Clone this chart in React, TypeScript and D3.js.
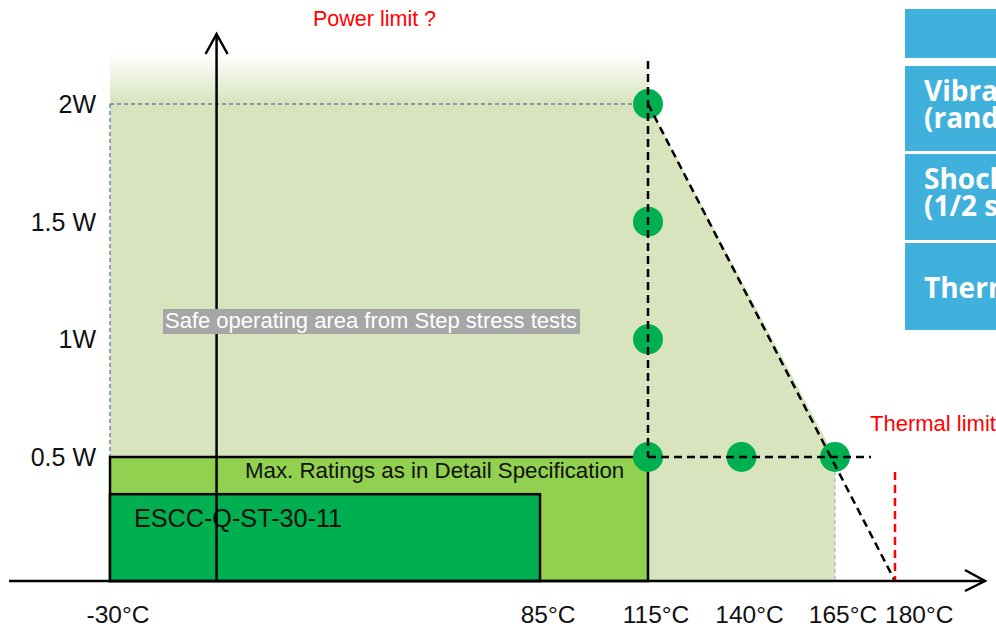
import React from "react";
import * as d3 from "d3";

// ---- data ----
const tempTicks = [-30, 85, 115, 140, 165, 180];
const tempLabels = ["-30°C", "85°C", "115°C", "140°C", "165°C", "180°C"];
const powerTicks = [0.5, 1, 1.5, 2];
const powerLabels = ["0.5 W", "1W", "1.5 W", "2W"];
const stepPoints: [number, number][] = [
  [115, 2], [115, 1.5], [115, 1], [115, 0.5], [140, 0.5], [165, 0.5],
];
const safeArea: [number, number][] = [[-30, 0], [-30, 2], [115, 2], [165, 0.5], [165, 0]];
const maxRating = { t0: -30, t1: 115, p: 0.5, label: "Max. Ratings as in Detail Specification" };
const esccRating = { t0: -30, t1: 85, p: 0.35, label: "ESCC-Q-ST-30-11" };
const thermalLimitT = 180;
const derating: [number, number][] = [[115, 2], [180, 0]];
const tableRows = [["", ""], ["Vibration", "(random)"], ["Shock", "(1/2 sine)"], ["Thermal", ""]];

const W = 996, H = 627;

export default function App() {
  const x = d3.scaleLinear().domain([-30, 85, 115, 165, 180]).range([110, 540, 648, 835, 895]);
  const y = d3.scaleLinear().domain([0, 0.5, 2]).range([581, 457, 104]);
  const line = d3.line<[number, number]>().x((d) => x(d[0])).y((d) => y(d[1]));
  const base = y(0);
  const yAxisX = x(-1.5);
  const green = "#D7E4BD";
  const font = "'Liberation Sans', Arial, sans-serif";
  const tfont = "'Open Sans', sans-serif";

  return (
    <svg width={W} height={H} style={{ position: "absolute", left: 0, top: 0, background: "#fff" }}>
      <defs>
        <linearGradient id="fade" x1="0" y1="0" x2="0" y2="1">
          <stop offset="0" stopColor={green} stopOpacity={0} />
          <stop offset="1" stopColor={green} stopOpacity={1} />
        </linearGradient>
      </defs>

      {/* safe operating area */}
      <rect x={x(-30)} y={y(2) - 50} width={x(115) - x(-30)} height={50} fill="url(#fade)" />
      <path d={line(safeArea) + "Z"} fill={green} />
      <path d={`M${x(-30)},${y(2)}H${x(115)}`} stroke="#2F5597" strokeWidth={1} strokeDasharray="4,3" />
      <path d={`M${x(-30)},${y(2)}V${y(0.5)}`} stroke="#2F5597" strokeWidth={1} strokeDasharray="4,3" />
      <path d={`M${x(165)},${y(0.5)}V${base}`} stroke="#8EA9C1" strokeWidth={1} strokeDasharray="4,3" />

      {/* rating rectangles */}
      <rect x={x(maxRating.t0)} y={y(maxRating.p)} width={x(maxRating.t1) - x(maxRating.t0)}
        height={base - y(maxRating.p)} fill="#92D050" stroke="#000" strokeWidth={2.5} />
      <rect x={x(esccRating.t0)} y={y(esccRating.p)} width={x(esccRating.t1) - x(esccRating.t0)}
        height={base - y(esccRating.p)} fill="#00B050" stroke="#000" strokeWidth={2.5} />
      <text x={245} y={478} fontFamily={font} fontSize={22.3} fill="#111">{maxRating.label}</text>
      <text x={134} y={527} fontFamily={font} fontSize={25.2} fill="#111">{esccRating.label}</text>

      {/* y axis */}
      <line x1={yAxisX} x2={yAxisX} y1={34} y2={base} stroke="#000" strokeWidth={2.5} />
      <polyline points={`${yAxisX - 11},54 ${yAxisX},34 ${yAxisX + 11},54`} fill="none" stroke="#000" strokeWidth={2.5} />

      {/* safe operating label */}
      <rect x={163} y={309} width={417} height={25} fill="#A6A6A6" />
      <text x={165} y={328} fontFamily={font} fontSize={22} fill="#fff">Safe operating area from Step stress tests</text>

      {/* step stress points */}
      {stepPoints.map((d, i) => (
        <circle key={i} cx={x(d[0])} cy={y(d[1])} r={15} fill="#00B050" />
      ))}

      {/* dashed black guides */}
      <path d={`M${x(115)},61V${y(0.5)}`} stroke="#000" strokeWidth={2.5} strokeDasharray="8,5" />
      <path d={`M${x(115)},${y(0.5)}H${x(174)}`} stroke="#000" strokeWidth={2.5} strokeDasharray="8,5" />
      <path d={line(derating)!} stroke="#000" strokeWidth={2.5} strokeDasharray="8,5" fill="none" />

      {/* thermal limit */}
      <path d={`M${x(thermalLimitT)},472V${base}`} stroke="#FF0000" strokeWidth={2.5} strokeDasharray="8,5" />
      <text x={870} y={431} fontFamily={font} fontSize={22} fill="#FF0000">Thermal limit</text>
      <text x={313} y={26} fontFamily={font} fontSize={21.5} fill="#FF0000">Power limit ?</text>

      {/* x axis */}
      <line x1={9} x2={985} y1={base} y2={base} stroke="#000" strokeWidth={2.5} />
      <polyline points={`965,570 985,${base} 965,591`} fill="none" stroke="#000" strokeWidth={2.5} />

      {/* tick labels */}
      {tempTicks.map((t, i) => {
        const last = i === tempTicks.length - 1;
        return (
          <text key={t} x={last ? x(t) - 10 : x(t) + 8} y={623} textAnchor={last ? "start" : "middle"}
            fontFamily={font} fontSize={24.5} fill="#111">
            {tempLabels[i]}
          </text>
        );
      })}
      {powerTicks.map((p, i) => (
        <text key={p} x={96} y={y(p) + 9} textAnchor="end" fontFamily={font} fontSize={25} fill="#111">
          {powerLabels[i]}
        </text>
      ))}

      {/* right table */}
      {[[9, 58], [66, 151], [154, 240], [243, 330]].map(([a, b], i) => (
        <g key={i}>
          <rect x={905} y={a} width={120} height={b - a} fill="#3FB1DC" />
          {tableRows[i][1] ? (
            <>
              <text x={924} y={a + 35} fontFamily={tfont} fontWeight={700} fontSize={28} fill="#fff">{tableRows[i][0]}</text>
              <text x={924} y={a + 62} fontFamily={tfont} fontWeight={700} fontSize={28} fill="#fff">{tableRows[i][1]}</text>
            </>
          ) : tableRows[i][0] ? (
            <text x={924} y={a + 55} fontFamily={tfont} fontWeight={700} fontSize={28} fill="#fff">{tableRows[i][0]}</text>
          ) : null}
        </g>
      ))}
    </svg>
  );
}
